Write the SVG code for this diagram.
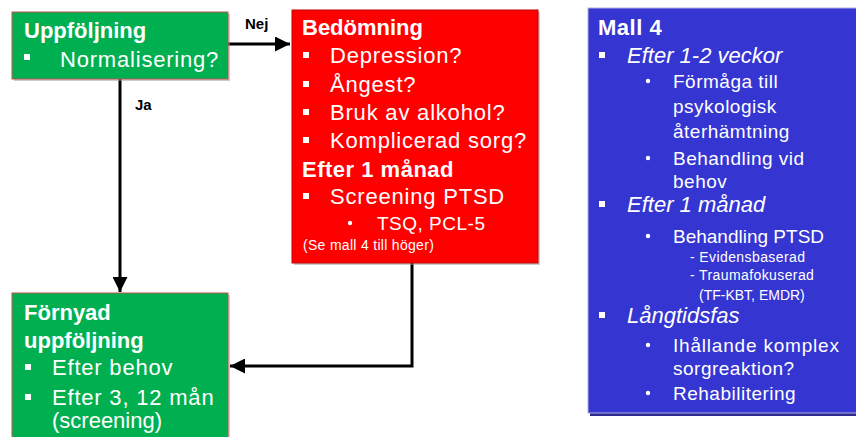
<svg xmlns="http://www.w3.org/2000/svg" width="856" height="437" viewBox="0 0 856 437">
<defs>
<marker id="arr" viewBox="0 0 10 10" refX="10" refY="5" markerWidth="5" markerHeight="5" orient="auto" markerUnits="strokeWidth">
<path d="M0,0 L10,5 L0,10 z" fill="#000"/>
</marker>
<style>
text{font-family:"Liberation Sans",Arial,sans-serif;fill:#fff}
.h{font-weight:bold;font-size:22px}
.b{font-size:22px;letter-spacing:0.8px}
.m{font-size:19px;letter-spacing:0.5px}
.i{font-size:22px;font-style:italic}
.s{font-size:14px}
.conn{fill:none;stroke:#000;stroke-width:3}
.lbl{fill:#000;font-weight:bold;font-size:15px}
.sh{fill:#999;opacity:0.5}
</style>
</defs>
<rect width="856" height="437" fill="#fff"/>

<g id="connectors">
<line class="conn" x1="228" y1="44" x2="290" y2="44" marker-end="url(#arr)"/>
<line class="conn" x1="120" y1="79" x2="120" y2="292" marker-end="url(#arr)"/>
<polyline class="conn" points="412,263 412,366 230,366" marker-end="url(#arr)"/>
<text class="lbl" x="245" y="29">Nej</text>
<text class="lbl" x="135" y="110">Ja</text>
</g>

<g id="uppfoljning">
<rect class="sh" x="14" y="14" width="216" height="67"/>
<rect x="12" y="12" width="216" height="67" fill="#00B050" stroke="#C0504D" stroke-width="1"/>
<text class="h" x="24" y="38">Uppföljning</text>
<rect x="24" y="54" width="6" height="6" fill="#fff"/>
<text class="b" x="60" y="67">Normalisering?</text>
</g>

<g id="bedomning">
<rect class="sh" x="294" y="12" width="246" height="253"/>
<rect x="292" y="10" width="246" height="253" fill="#FF0000" stroke="#C00000" stroke-width="1"/>
<text class="h" x="302" y="35">Bedömning</text>
<rect x="303" y="52" width="6" height="6" fill="#fff"/>
<text class="b" x="330" y="63">Depression?</text>
<rect x="303" y="81" width="6" height="6" fill="#fff"/>
<text class="b" x="330" y="92">Ångest?</text>
<rect x="303" y="109" width="6" height="6" fill="#fff"/>
<text class="b" x="330" y="120">Bruk av alkohol?</text>
<rect x="303" y="137" width="6" height="6" fill="#fff"/>
<text class="b" x="330" y="148">Komplicerad sorg?</text>
<text class="h" x="302" y="177" style="letter-spacing:0.5px">Efter 1 månad</text>
<rect x="303" y="193" width="6" height="6" fill="#fff"/>
<text class="b" x="330" y="204">Screening PTSD</text>
<circle cx="350" cy="223" r="2.2" fill="#fff"/>
<text class="m" x="377" y="230">TSQ, PCL-5</text>
<text class="s" x="303" y="250" style="letter-spacing:0.3px">(Se mall 4 till höger)</text>
</g>

<g id="fornyad">
<rect class="sh" x="14" y="295" width="216" height="150"/>
<rect x="12" y="293" width="216" height="150" fill="#00B050" stroke="#C0504D" stroke-width="1"/>
<text class="h" x="24" y="320">Förnyad</text>
<text class="h" x="24" y="348">uppföljning</text>
<rect x="25" y="364" width="6" height="6" fill="#fff"/>
<text class="b" x="52" y="375">Efter behov</text>
<rect x="25" y="394" width="6" height="6" fill="#fff"/>
<text class="b" x="52" y="405">Efter 3, 12 mån</text>
<text class="b" x="52" y="428" style="letter-spacing:0">(screening)</text>
</g>

<g id="mall4">
<rect x="590" y="10" width="270" height="406" fill="#2A2A90"/>
<rect x="588" y="8" width="270" height="405" fill="#3535D2" stroke="#B0B0E0" stroke-width="1"/>
<text class="h" x="598" y="35" style="letter-spacing:0.5px">Mall 4</text>
<rect x="599" y="52" width="6" height="6" fill="#fff"/>
<text class="i" x="627" y="63">Efter 1-2 veckor</text>
<circle cx="648" cy="81" r="2.2" fill="#fff"/>
<text class="m" x="673" y="88">Förmåga till</text>
<text class="m" x="673" y="113">psykologisk</text>
<text class="m" x="673" y="138">återhämtning</text>
<circle cx="648" cy="158" r="2.2" fill="#fff"/>
<text class="m" x="673" y="165">Behandling vid</text>
<text class="m" x="673" y="188">behov</text>
<rect x="599" y="201" width="6" height="6" fill="#fff"/>
<text class="i" x="627" y="212">Efter 1 månad</text>
<circle cx="648" cy="236" r="2.2" fill="#fff"/>
<text class="m" x="673" y="243" style="letter-spacing:0">Behandling PTSD</text>
<text class="s" x="690" y="262" style="letter-spacing:0.4px">- Evidensbaserad</text>
<text class="s" x="690" y="280" style="letter-spacing:0.4px">- Traumafokuserad</text>
<text class="s" x="699" y="300">(TF-KBT, EMDR)</text>
<rect x="599" y="312" width="6" height="6" fill="#fff"/>
<text class="i" x="627" y="323">Långtidsfas</text>
<circle cx="648" cy="345" r="2.2" fill="#fff"/>
<text class="m" x="673" y="352" style="letter-spacing:0.8px">Ihållande komplex</text>
<text class="m" x="673" y="375">sorgreaktion?</text>
<circle cx="648" cy="393" r="2.2" fill="#fff"/>
<text class="m" x="673" y="400">Rehabilitering</text>
</g>
</svg>
